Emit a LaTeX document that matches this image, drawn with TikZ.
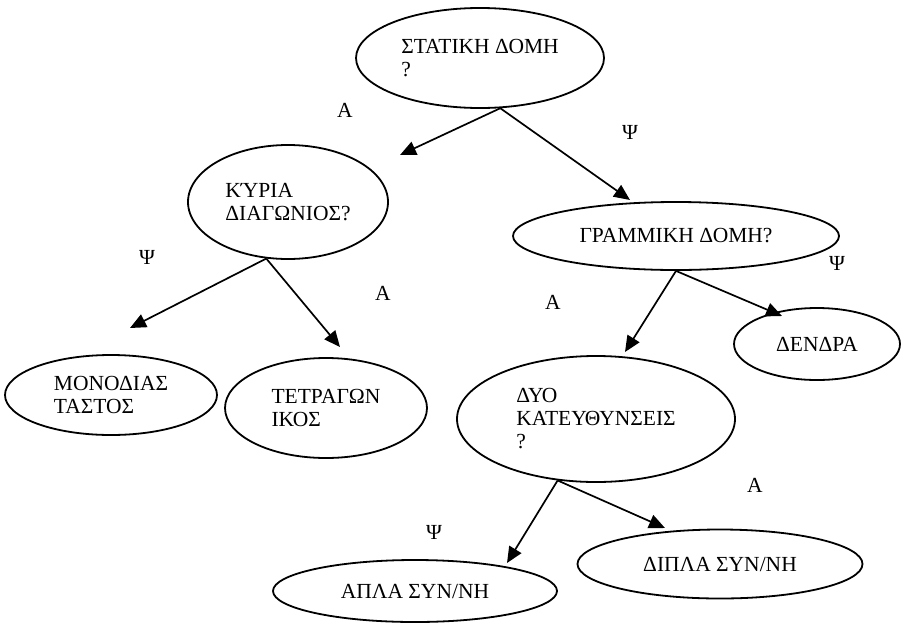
\documentclass[tikz,border=0pt]{standalone}
\usepackage{fontspec}
\setmainfont{Liberation Serif}
\usetikzlibrary{shapes.geometric, arrows.meta}

\begin{document}
\begin{tikzpicture}[x=1pt, y=-1pt, >={Triangle[length=16pt, width=14pt]}, font=\fontsize{21.5}{23}\selectfont]
    \tikzstyle{oval} = [ellipse, draw, line width=1.8pt, inner sep=0pt, align=left]
    \tikzstyle{arc} = [->, line width=1.7pt]
    \tikzstyle{ans} = [inner sep=0pt]

    \useasboundingbox (0,0) rectangle (901,624);

    % Nodes
    \node [oval, minimum width=248pt, minimum height=100pt] (stat) at (480,58) {ΣΤΑΤΙΚΗ ΔΟΜΗ\\?};
    \node [oval, minimum width=200pt, minimum height=114pt] (diag) at (288,202) {ΚΎΡΙΑ\\ΔΙΑΓΩΝΙΟΣ?};
    \node [oval, minimum width=326pt, minimum height=68pt] (lin) at (676,236) {ΓΡΑΜΜΙΚΗ ΔΟΜΗ?};
    \node [oval, minimum width=166pt, minimum height=72pt] (tree) at (817,344) {ΔΕΝΔΡΑ};
    \node [oval, minimum width=212pt, minimum height=80pt] (mono) at (111,395) {ΜΟΝΟΔΙΑΣ\\ΤΑΣΤΟΣ};
    \node [oval, minimum width=202pt, minimum height=100pt] (sq) at (326,408) {ΤΕΤΡΑΓΩΝ\\ΙΚΟΣ};
    \node [oval, minimum width=278pt, minimum height=126pt] (two) at (596,419) {ΔΥΟ\\ΚΑΤΕΥΘΥΝΣΕΙΣ\\?};
    \node [oval, minimum width=284pt, minimum height=62pt] (simple) at (415,591) {ΑΠΛΑ ΣΥΝ/ΝΗ};
    \node [oval, minimum width=285pt, minimum height=69pt] (dbl) at (720,564) {ΔΙΠΛΑ ΣΥΝ/ΝΗ};

    % Answers
    \node [ans] (a1) at (345,110) {Α};
    \node [ans] (y1) at (630,132) {Ψ};
    \node [ans] (y2) at (147,257) {Ψ};
    \node [ans] (a2) at (383,293) {Α};
    \node [ans] (a3) at (553,302) {Α};
    \node [ans] (y3) at (837,263) {Ψ};
    \node [ans] (a4) at (755,485) {Α};
    \node [ans] (y4) at (434,532) {Ψ};

    % Arrow tips
    \coordinate (t1) at (400,155);
    \coordinate (t2) at (630,200);
    \coordinate (t3) at (130,328);
    \coordinate (t4) at (340,347);
    \coordinate (t5) at (625,352);
    \coordinate (t6) at (782,316);
    \coordinate (t7) at (507,563);
    \coordinate (t8) at (665,528);

    % Connections
    \draw [arc] (stat.292) -- (t1);
    \draw [arc] (stat.292) -- (t2);
    \draw [arc] (diag.249) -- (t3);
    \draw [arc] (diag.249) -- (t4);
    \draw [arc] (lin.south) -- (t5);
    \draw [arc] (lin.south) -- (t6);
    \draw [arc] (two.238) -- (t7);
    \draw [arc] (two.238) -- (t8);
\end{tikzpicture}
\end{document}
